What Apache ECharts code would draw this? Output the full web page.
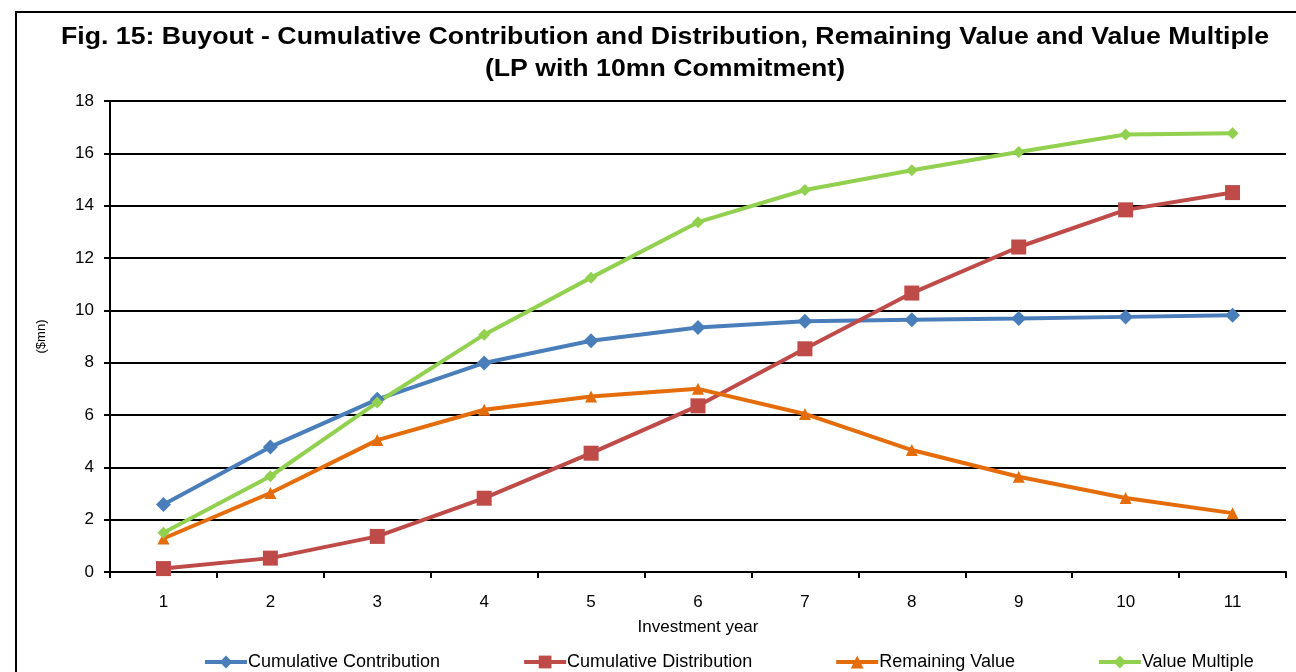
<!DOCTYPE html>
<html>
<head>
<meta charset="utf-8">
<script src="https://cdn.jsdelivr.net/npm/echarts@6/dist/echarts.min.js"></script>
<style>
  html, body { margin: 0; padding: 0; background: #fff; }
  #chart { width: 1296px; height: 672px; }
</style>
</head>
<body>
<div id="chart"></div>
<script>
// Investment years on the category axis
const years = ['1', '2', '3', '4', '5', '6', '7', '8', '9', '10', '11'];

// Values in $mn for an LP with a 10mn commitment
const cumulativeContribution = [2.58, 4.78, 6.6, 7.99, 8.84, 9.34, 9.58, 9.64, 9.69, 9.75, 9.81];
const cumulativeDistribution = [0.13, 0.53, 1.36, 2.82, 4.54, 6.35, 8.53, 10.66, 12.42, 13.84, 14.5];
const remainingValue = [1.28, 3.02, 5.04, 6.2, 6.71, 7.0, 6.04, 4.66, 3.64, 2.83, 2.25];
const valueMultiple = [1.5, 3.66, 6.48, 9.07, 11.25, 13.37, 14.6, 15.35, 16.05, 16.72, 16.77];

// Value axis ticks
const yMin = 0, yMax = 18, yStep = 2;

const titleText = 'Fig. 15: Buyout - Cumulative Contribution and Distribution, Remaining Value and Value Multiple\n(LP with 10mn Commitment)';

const FONT = '"Liberation Sans", Arial, sans-serif';

const chart = echarts.init(document.getElementById('chart'), null, { renderer: 'canvas' });

function lineSeries(name, data, color, symbol, size) {
  return {
    name: name,
    type: 'line',
    data: data,
    symbol: symbol,
    symbolSize: size,
    showSymbol: true,
    lineStyle: { color: color, width: 4 },
    itemStyle: { color: color },
    emphasis: { disabled: true },
    animation: false
  };
}

chart.setOption({
  backgroundColor: '#ffffff',
  animation: false,
  graphic: [
    {
      // outer frame of the figure
      type: 'rect',
      shape: { x: 16, y: 12, width: 1300, height: 700 },
      style: { fill: 'none', stroke: '#000', lineWidth: 2 },
      silent: true,
      z: 100
    },
    {
      // two-line figure title, slightly widened
      type: 'text',
      x: 665,
      y: 22,
      scaleX: 1.16,
      silent: true,
      style: {
        text: titleText,
        align: 'center',
        verticalAlign: 'top',
        font: 'bold 23px ' + FONT,
        lineHeight: 32,
        fill: '#000'
      }
    }
  ],
  legend: {
    bottom: -4,
    left: 198,
    itemWidth: 42,
    itemHeight: 16,
    itemGap: 82,
    lineStyle: { width: 4 },
    textStyle: { fontFamily: FONT, fontSize: 18, color: '#000', padding: [0, 0, 0, -4] },
    data: ['Cumulative Contribution', 'Cumulative Distribution', 'Remaining Value', 'Value Multiple']
  },
  grid: { left: 110, right: 10, top: 101, bottom: 100 },
  xAxis: {
    type: 'category',
    data: years,
    boundaryGap: true,
    name: 'Investment year',
    nameLocation: 'middle',
    nameGap: 47,
    nameTextStyle: { fontFamily: FONT, fontSize: 17, color: '#000' },
    axisLine: { lineStyle: { color: '#000', width: 2 } },
    axisTick: { show: true, length: 6, lineStyle: { color: '#000', width: 2 } },
    axisLabel: { fontFamily: FONT, fontSize: 17, color: '#000', margin: 22 },
    splitLine: { show: false }
  },
  yAxis: {
    type: 'value',
    min: yMin,
    max: yMax,
    interval: yStep,
    name: '($mn)',
    nameLocation: 'middle',
    nameRotate: 90,
    nameGap: 62,
    nameTextStyle: { fontFamily: FONT, fontSize: 13, color: '#000' },
    axisLine: { show: true, lineStyle: { color: '#000', width: 2 } },
    axisTick: { show: true, length: 6, lineStyle: { color: '#000', width: 2 } },
    axisLabel: { fontFamily: FONT, fontSize: 17, color: '#000', margin: 16 },
    splitLine: { show: true, lineStyle: { color: '#000', width: 2 } }
  },
  series: [
    lineSeries('Cumulative Contribution', cumulativeContribution, '#4A7EBB', 'diamond', 15),
    lineSeries('Cumulative Distribution', cumulativeDistribution, '#BE4B48', 'rect', 15),
    lineSeries('Remaining Value', remainingValue, '#E46C0A', 'triangle', 12),
    lineSeries('Value Multiple', valueMultiple, '#92D050', 'diamond', 12)
  ]
});
</script>
</body>
</html>
